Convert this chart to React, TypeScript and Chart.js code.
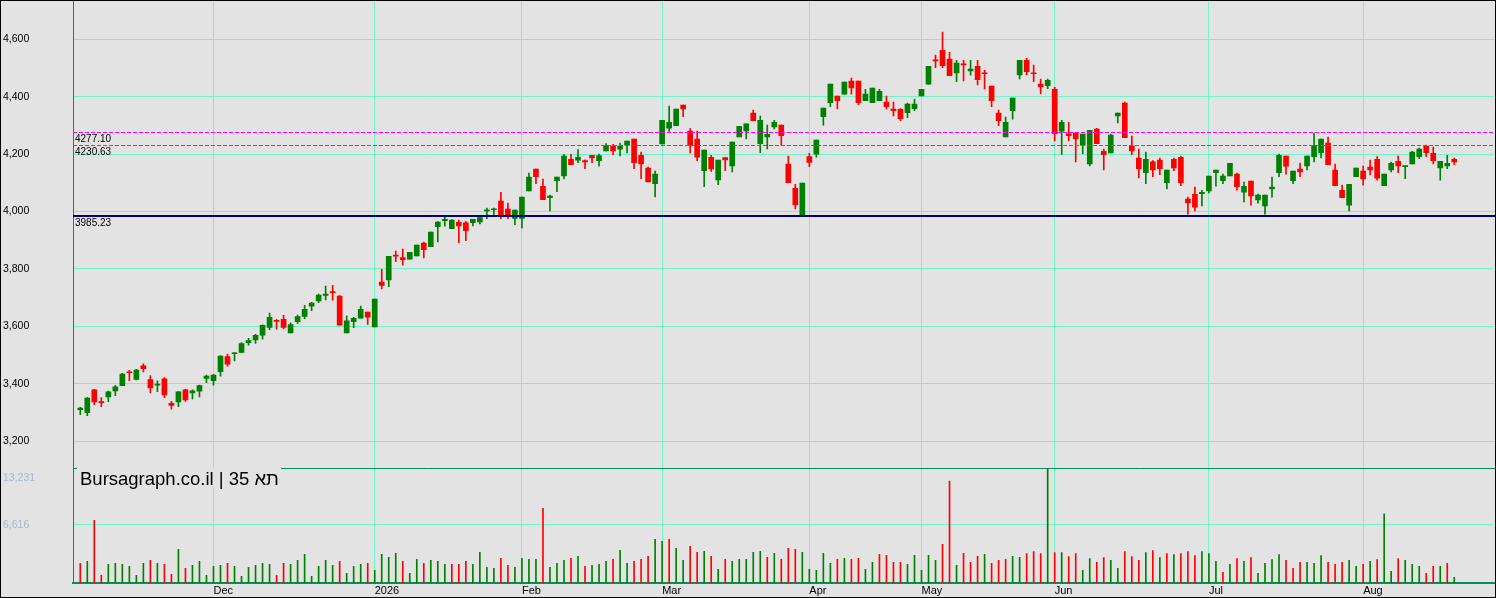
import React, { useEffect, useRef } from "react";
import { Chart, registerables } from "chart.js";

Chart.register(...registerables);

// daily candles, oldest first
const open = [
  3309, 3299, 3378, 3337, 3354, 3375, 3393, 3441, 3415, 3462, 3414, 3395, 3417, 3331, 3336, 3378, 3368, 3374, 3418, 3410,
  3442, 3494, 3504, 3509, 3543, 3552, 3569, 3596, 3620, 3624, 3577, 3616, 3634, 3670, 3688, 3707, 3719, 3705, 3577, 3616,
  3628, 3649, 3598, 3754, 3761, 3848, 3839, 3834, 3845, 3890, 3877, 3947, 3968, 3940, 3962, 3960, 3961, 3964, 4002, 4006,
  4036, 4008, 3976, 3976, 4072, 4148, 4088, 4048, 4107, 4124, 4182, 4179, 4177, 4196, 4177, 4211, 4228, 4217, 4231, 4252,
  4196, 4151, 4097, 4235, 4290, 4299, 4371, 4280, 4252, 4142, 4189, 4110, 4188, 4159, 4260, 4281, 4343, 4236, 4260, 4295,
  4301, 4165, 4081, 3987, 4191, 4200, 4330, 4379, 4402, 4409, 4454, 4454, 4386, 4379, 4386, 4381, 4357, 4356, 4344, 4358,
  4403, 4444, 4528, 4562, 4531, 4483, 4513, 4490, 4506, 4482, 4437, 4343, 4260, 4351, 4476, 4527, 4483, 4444, 4438, 4426,
  4280, 4271, 4274, 4231, 4166, 4287, 4210, 4204, 4333, 4378, 4229, 4186, 4135, 4173, 4179, 4100, 4182, 4189, 4043, 4060,
  4062, 4072, 4135, 4107, 4124, 4130, 4067, 4106, 4040, 4019, 4079, 4135, 4193, 4107, 4148, 4159, 4191, 4205, 4238, 4144,
  4074, 4022, 4121, 4141, 4155, 4182, 4090, 4145, 4175, 4156, 4166, 4191, 4228, 4203, 4152, 4159, 4182,
];
const high = [
  3317, 3352, 3380, 3351, 3374, 3394, 3436, 3446, 3450, 3469, 3428, 3410, 3421, 3338, 3373, 3380, 3378, 3395, 3430, 3432,
  3498, 3503, 3508, 3543, 3558, 3572, 3605, 3646, 3624, 3638, 3612, 3639, 3673, 3683, 3712, 3740, 3743, 3707, 3636, 3631,
  3670, 3649, 3695, 3798, 3844, 3862, 3869, 3858, 3883, 3893, 3928, 3965, 3980, 3972, 3970, 3966, 3973, 3979, 4012, 4012,
  4067, 4029, 4005, 4050, 4134, 4148, 4113, 4057, 4120, 4199, 4199, 4216, 4180, 4196, 4200, 4237, 4234, 4238, 4245, 4252,
  4207, 4155, 4141, 4318, 4367, 4357, 4371, 4289, 4280, 4214, 4196, 4179, 4188, 4242, 4297, 4305, 4353, 4332, 4301, 4318,
  4301, 4193, 4095, 4099, 4203, 4249, 4360, 4444, 4402, 4451, 4465, 4454, 4426, 4430, 4426, 4402, 4381, 4359, 4378, 4391,
  4426, 4506, 4545, 4625, 4555, 4527, 4527, 4527, 4527, 4492, 4437, 4353, 4329, 4395, 4527, 4534, 4510, 4461, 4461, 4433,
  4318, 4311, 4274, 4270, 4283, 4290, 4217, 4270, 4343, 4381, 4263, 4217, 4207, 4177, 4186, 4144, 4186, 4193, 4050, 4085,
  4074, 4123, 4144, 4130, 4168, 4134, 4102, 4106, 4061, 4057, 4120, 4200, 4193, 4141, 4169, 4193, 4273, 4252, 4259, 4165,
  4092, 4095, 4151, 4158, 4179, 4191, 4130, 4172, 4193, 4158, 4210, 4221, 4231, 4224, 4175, 4196, 4186,
];
const low = [
  3292, 3288, 3327, 3320, 3337, 3358, 3393, 3410, 3413, 3441, 3368, 3372, 3351, 3311, 3320, 3338, 3347, 3354, 3403, 3395,
  3426, 3461, 3479, 3507, 3534, 3540, 3555, 3588, 3590, 3591, 3577, 3610, 3626, 3654, 3682, 3692, 3691, 3604, 3577, 3595,
  3628, 3606, 3598, 3730, 3738, 3825, 3813, 3834, 3845, 3838, 3877, 3894, 3949, 3940, 3891, 3898, 3950, 3957, 3975, 3985,
  3975, 3975, 3954, 3943, 4072, 4097, 4041, 4002, 4069, 4113, 4163, 4170, 4149, 4170, 4158, 4211, 4198, 4194, 4204, 4149,
  4114, 4103, 4051, 4235, 4279, 4299, 4330, 4204, 4177, 4086, 4140, 4093, 4142, 4138, 4260, 4253, 4316, 4205, 4218, 4288,
  4231, 4100, 4009, 3987, 4156, 4189, 4301, 4365, 4357, 4409, 4409, 4372, 4386, 4379, 4386, 4357, 4333, 4316, 4327, 4351,
  4403, 4444, 4501, 4501, 4473, 4452, 4455, 4475, 4441, 4427, 4365, 4299, 4260, 4322, 4462, 4476, 4452, 4410, 4428, 4246,
  4199, 4246, 4173, 4201, 4159, 4236, 4145, 4204, 4309, 4257, 4198, 4117, 4097, 4121, 4128, 4079, 4142, 4090, 3991, 4002,
  4019, 4065, 4088, 4097, 4124, 4074, 4033, 4022, 4029, 3991, 4050, 4121, 4130, 4097, 4121, 4145, 4173, 4187, 4163, 4090,
  4048, 4002, 4121, 4092, 4127, 4109, 4090, 4138, 4135, 4114, 4166, 4184, 4191, 4166, 4109, 4149, 4163,
];
const close = [
  3315, 3350, 3336, 3334, 3371, 3389, 3433, 3438, 3447, 3452, 3385, 3397, 3361, 3324, 3371, 3343, 3375, 3393, 3426, 3430,
  3496, 3468, 3506, 3540, 3550, 3568, 3603, 3631, 3617, 3596, 3606, 3634, 3659, 3681, 3709, 3712, 3717, 3604, 3619, 3628,
  3659, 3632, 3695, 3742, 3844, 3844, 3832, 3858, 3883, 3867, 3928, 3963, 3973, 3970, 3950, 3933, 3973, 3979, 4005, 4009,
  3989, 3989, 4005, 4050, 4120, 4121, 4041, 4054, 4120, 4193, 4163, 4189, 4173, 4187, 4195, 4230, 4211, 4228, 4245, 4170,
  4166, 4103, 4130, 4318, 4311, 4357, 4357, 4231, 4189, 4214, 4148, 4179, 4180, 4242, 4297, 4305, 4316, 4318, 4269, 4311,
  4264, 4100, 4023, 4099, 4171, 4249, 4360, 4444, 4386, 4451, 4431, 4379, 4409, 4430, 4419, 4365, 4351, 4323, 4374, 4374,
  4426, 4506, 4525, 4508, 4473, 4517, 4511, 4496, 4459, 4480, 4386, 4316, 4311, 4395, 4527, 4487, 4480, 4434, 4457, 4271,
  4311, 4264, 4253, 4270, 4283, 4236, 4198, 4266, 4343, 4257, 4211, 4149, 4182, 4145, 4149, 4144, 4152, 4100, 4030, 4015,
  4067, 4123, 4144, 4123, 4168, 4086, 4088, 4054, 4057, 4057, 4085, 4196, 4158, 4141, 4138, 4193, 4228, 4252, 4163, 4090,
  4048, 4095, 4151, 4113, 4145, 4116, 4130, 4168, 4159, 4158, 4207, 4217, 4205, 4177, 4175, 4168, 4173,
];
const volume = [
  2230, 2457, 7106, 869, 2117, 2230, 2117, 1890, 869, 2230, 2570, 2230, 2117, 983, 3818, 1663, 2003, 2457, 869, 1890,
  2003, 2230, 1890, 756, 1777, 2003, 2230, 2117, 869, 2230, 2117, 2570, 3251, 756, 1890, 2570, 2003, 2457, 1096, 1890,
  2117, 2230, 1436, 3251, 2911, 3364, 2457, 1096, 2684, 2230, 2570, 2457, 2117, 2117, 2117, 2457, 2117, 3478, 1777, 1663,
  2797, 2003, 1777, 2797, 2684, 2684, 8467, 1777, 2230, 2570, 2797, 3024, 1890, 2003, 2117, 2457, 2684, 3704, 2230, 2457,
  2684, 3024, 4952, 4725, 4952, 3931, 2570, 4158, 3478, 3591, 3024, 1550, 2684, 2457, 2684, 2684, 3478, 3591, 2911, 3364,
  2684, 3931, 3818, 3478, 1550, 1436, 3364, 2230, 2684, 2797, 2684, 2797, 1550, 2344, 3251, 3137, 2344, 2344, 2117, 3137,
  1436, 3137, 2570, 4385, 11563, 2003, 3364, 2344, 3024, 3251, 2230, 2570, 2684, 3024, 2911, 3346, 3572, 3346, 13231, 3459,
  3459, 3008, 3346, 1429, 2782, 2331, 2895, 2557, 1654, 3572, 3008, 2557, 3459, 3685, 2895, 3346, 3234, 3346, 3572, 3121,
  3572, 3346, 2444, 1203, 2106, 2782, 2444, 2895, 1090, 2218, 2670, 3234, 2557, 1654, 2331, 2331, 2218, 3121, 2331, 2106,
  2331, 2557, 1880, 2106, 2444, 2670, 7858, 1316, 2782, 2557, 2106, 1880, 1090, 1880, 1880, 2218, 639,
];
// G = up day, R = down day (volume bar colour)
const volumeDir = (
  "RGRRGGGGGG" + "RGRRGRGGGG" + "GRGGGGGGRR" + "GGGGGGGRGG" + "GRGGGGRGGR" + "GGGRRRGGGG" + "RRGGGGR" +
  "GGGRGRGGGR" + "GGRRRGGRGG" + "RRGRGRGGGG" + "GRGRRRGGGG" + "GRGRRGGRRR" + "RGGGGGRRGR" + "RRGRRRGG" +
  "RRRGRGRRGG" + "RRGGRRRGRG" + "RGRRRGGGRG" + "RGRGGGGRRR" + "GGGRRRGGRG" + "RGGRGGGRRG" + "RG"
).split("");

const monthIndex = [19, 42, 63, 83, 104, 120, 139, 161, 183];
const monthLabels = ["Dec", "2026", "Feb", "Mar", "Apr", "May", "Jun", "Jul", "Aug"];
const priceTicks = [3200, 3400, 3600, 3800, 4000, 4200, 4400, 4600];
const volumeTicks = [6616, 13231];
const levels = [4277.1, 4230.63, 3985.23];
const levelColors = ["#ff00ff", "#ff00ff", "#000080"];
const watermark = "Bursagraph.co.il | תא 35";

const UP = "#008000";
const DOWN = "#ff0000";
const GRID = "#6ff5c8";
const FRAME = "#008f5f";
const BG = "#e3e3e3";
const FONT = "Arial, 'Liberation Sans', sans-serif";

const noPadding = (s: any) => {
  s.paddingTop = 0;
  s.paddingBottom = 0;
  s.paddingLeft = 0;
  s.paddingRight = 0;
};

const overlay = {
  id: "overlay",
  beforeDatasetsDraw(chart: any) {
    const { ctx, chartArea } = chart;
    const yv = chart.scales.yv;
    ctx.save();
    ctx.strokeStyle = FRAME;
    ctx.lineWidth = 1;
    ctx.beginPath();
    ctx.moveTo(chartArea.left, Math.round(yv.top) + 0.5);
    ctx.lineTo(chartArea.right, Math.round(yv.top) + 0.5);
    ctx.stroke();
    ctx.restore();
  },
  afterDatasetsDraw(chart: any) {
    const { ctx, chartArea } = chart;
    const y = chart.scales.y;
    const yv = chart.scales.yv;
    ctx.save();
    levels.forEach((lv, i) => {
      const py = y.getPixelForValue(lv);
      ctx.strokeStyle = levelColors[i];
      if (i < 2) {
        ctx.lineWidth = 1;
        ctx.setLineDash([4, 2]);
        ctx.beginPath();
        ctx.moveTo(chartArea.left, Math.round(py) + 0.5);
        ctx.lineTo(chartArea.right, Math.round(py) + 0.5);
      } else {
        ctx.lineWidth = 2;
        ctx.setLineDash([]);
        ctx.beginPath();
        ctx.moveTo(chartArea.left, Math.round(py));
        ctx.lineTo(chartArea.right, Math.round(py));
      }
      ctx.stroke();
      ctx.setLineDash([]);
      ctx.fillStyle = "#000";
      ctx.font = `10px ${FONT}`;
      ctx.textBaseline = "top";
      ctx.textAlign = "left";
      ctx.fillText(lv.toFixed(2), chartArea.left + 2, Math.round(py) + 2);
    });

    // top volume label sits just under the panel line
    ctx.fillStyle = "#a9b6cc";
    ctx.font = `10.5px ${FONT}`;
    ctx.textBaseline = "middle";
    ctx.fillText(volumeTicks[1].toLocaleString("en-US"), 2, yv.top + 10);

    // watermark box
    ctx.fillStyle = BG;
    ctx.fillRect(chartArea.left + 4, yv.top - 1, 204, 20);
    ctx.fillStyle = "#000";
    ctx.font = `18.5px ${FONT}`;
    ctx.textBaseline = "alphabetic";
    ctx.fillText(watermark, chartArea.left + 7, yv.top + 17);
    ctx.restore();
  },
};

export default function App() {
  const canvasRef = useRef<HTMLCanvasElement | null>(null);

  useEffect(() => {
    document.body.style.margin = "0";
    if (!canvasRef.current) return;

    const idx = open.map((_, i) => i);
    const candleColors = idx.map((i) => (close[i] >= open[i] ? UP : DOWN));

    const chart = new Chart(canvasRef.current, {
      type: "bar",
      data: {
        datasets: [
          {
            data: idx.map((i) => ({ x: i, y: [open[i], close[i]] })) as any,
            backgroundColor: candleColors,
            barThickness: 5,
            minBarLength: 1,
            grouped: false,
            yAxisID: "y",
          },
          {
            data: idx.map((i) => ({ x: i, y: [low[i], high[i]] })) as any,
            backgroundColor: candleColors,
            barThickness: 1,
            grouped: false,
            yAxisID: "y",
          },
          {
            data: idx.map((i) => ({ x: i, y: volume[i] })) as any,
            backgroundColor: idx.map((i) => (volumeDir[i] === "G" ? UP : DOWN)),
            barThickness: 1,
            grouped: false,
            yAxisID: "yv",
          },
        ],
      },
      options: {
        animation: false,
        responsive: false,
        layout: { padding: { left: 2, right: 0, top: 0, bottom: 0 } },
        plugins: { legend: { display: false }, tooltip: { enabled: false } },
        scales: {
          x: {
            type: "linear",
            offset: false,
            min: -1.04,
            max: 201.81,
            afterBuildTicks: (s: any) => {
              s.ticks = monthIndex.map((v) => ({ value: v }));
            },
            afterFit: (s: any) => {
              s.height = 14;
              noPadding(s);
            },
            ticks: {
              align: "start",
              padding: 1,
              color: "#000",
              font: { family: FONT, size: 11 },
              callback: (v: any) => monthLabels[monthIndex.indexOf(Number(v))] ?? "",
            },
            grid: { color: GRID, drawTicks: false, offset: false },
            border: { color: FRAME, width: 2 },
          },
          yv: {
            type: "linear",
            position: "left",
            stack: "panels",
            stackWeight: 114.7,
            min: 0,
            max: 13007,
            afterBuildTicks: (s: any) => {
              s.ticks = [{ value: volumeTicks[0] }];
            },
            afterFit: (s: any) => {
              s.width = 70;
              noPadding(s);
            },
            ticks: {
              crossAlign: "far",
              color: "#a9b6cc",
              font: { family: FONT, size: 10.5 },
              callback: (v: any) => Number(v).toLocaleString("en-US"),
            },
            grid: { color: GRID, drawTicks: false },
            border: { color: FRAME },
          },
          y: {
            type: "linear",
            position: "left",
            stack: "panels",
            stackWeight: 467.3,
            min: 3104.9,
            max: 4733.5,
            afterBuildTicks: (s: any) => {
              s.ticks = priceTicks.map((v) => ({ value: v }));
            },
            afterFit: (s: any) => {
              s.width = 70;
              noPadding(s);
            },
            ticks: {
              crossAlign: "far",
              color: "#000",
              font: { family: FONT, size: 10.5 },
              callback: (v: any) => Number(v).toLocaleString("en-US"),
            },
            grid: { color: GRID, drawTicks: false },
            border: { color: FRAME },
          },
        },
      },
      plugins: [overlay],
    });

    return () => chart.destroy();
  }, []);

  return (
    <div
      style={{
        width: 1496,
        height: 598,
        border: "1px solid #000",
        boxSizing: "border-box",
        background: BG,
      }}
    >
      <canvas ref={canvasRef} width={1494} height={596} style={{ display: "block" }} />
    </div>
  );
}
